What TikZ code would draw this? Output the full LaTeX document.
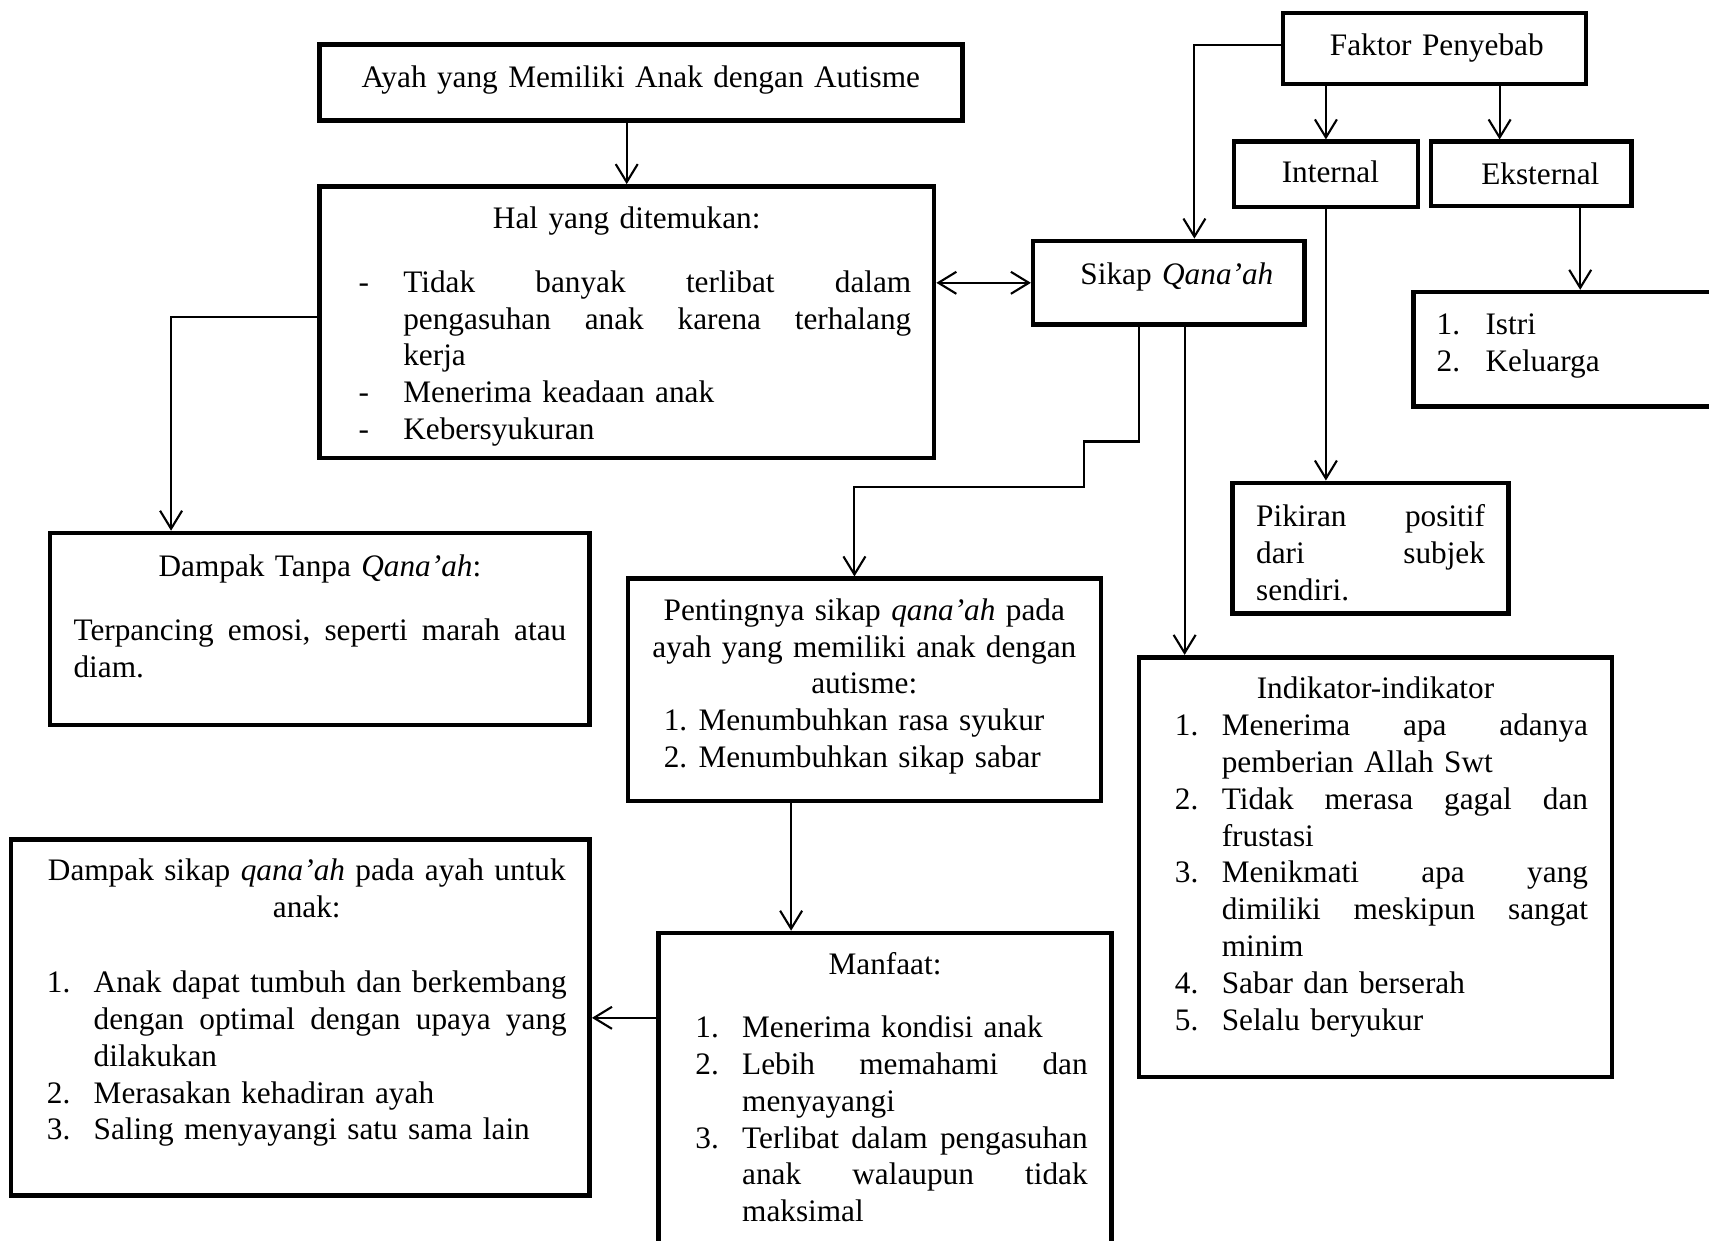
\documentclass[tikz,border=0pt]{standalone}
\usepackage{fontspec}
\setmainfont{Liberation Serif}
\usetikzlibrary{arrows.meta}

\newlength{\upx}\setlength{\upx}{0.01cm}
\newlength{\lblind}
\newlength{\numw}
\newcommand{\fsz}{\fontsize{8.9pt}{10.47pt}\selectfont}
\newcommand{\cln}[1]{\makebox[\linewidth]{#1}}
\newcommand{\jline}[1]{\makebox[\linewidth][s]{#1}}
\newcommand{\rline}[1]{\makebox[\linewidth][l]{#1}}
\newcommand{\ritem}[2]{\makebox[\linewidth][l]{\makebox[\numw][l]{\hspace*{\lblind}#1}#2}}
\newcommand{\jitem}[2]{\makebox[\numw][l]{\hspace*{\lblind}#1}\makebox[\dimexpr\linewidth-\numw\relax][s]{#2}}

\begin{document}
\begin{tikzpicture}[
  box/.style={draw, line width=1.3pt, inner sep=0pt, align=center, font=\fsz},
  arr/.style={line width=0.6pt, -{Straight Barb[length=1.8mm, width=2.2mm]}},
  dbl/.style={line width=0.6pt, {Straight Barb[length=1.8mm, width=2.2mm]}-{Straight Barb[length=1.8mm, width=2.2mm]}}]
\useasboundingbox (0,0) rectangle (17.09,-12.40);
\node[box, minimum width=6.431cm, minimum height=0.756cm, text width=6.2cm, text height=0.098cm, text depth=0pt] (ayah) at (6.409,-0.825) {Ayah yang Memiliki Anak dengan Autisme};
\node[box, minimum width=6.147cm, minimum height=2.714cm, text width=5.691cm, text height=0pt, text depth=1.882cm] (hal) at (6.267,-3.221) {\setlength{\lblind}{16.5\upx}\setlength{\numw}{61.2\upx}%
Hal yang ditemukan:\\[7.8pt]
\jitem{-}{Tidak\hfill banyak\hfill terlibat\hfill dalam}\\
\jitem{}{pengasuhan\hfill anak\hfill karena\hfill terhalang}\\
\ritem{}{kerja}\\
\ritem{-}{Menerima keadaan anak}\\
\ritem{-}{Kebersyukuran}};
\node[box, minimum width=5.395cm, minimum height=1.918cm, text width=4.927cm, text height=0pt, text depth=1.044cm] (dt) at (3.199,-6.289) {Dampak Tanpa \textit{Qana’ah}:\\[7.8pt]
\jline{Terpancing\hfill emosi,\hfill seperti\hfill marah\hfill atau}\\
\rline{diam.}};
\node[box, minimum width=2.714cm, minimum height=0.839cm, text width=2.5cm, text height=0.036cm, text depth=0pt] (sikap) at (11.689,-2.828) {\hspace*{16\upx}Sikap \textit{Qana’ah}};
\node[box, minimum width=3.030cm, minimum height=0.708cm, text width=2.8cm, text height=0.146cm, text depth=0pt] (faktor) at (14.343,-0.485) {\hspace*{5\upx}Faktor Penyebab};
\node[box, minimum width=1.842cm, minimum height=0.654cm, text width=1.7cm, text height=0.156cm, text depth=0pt] (internal) at (13.259,-1.744) {\hspace*{9\upx}Internal};
\node[box, minimum width=2.006cm, minimum height=0.643cm, text width=1.9cm, text height=0.21cm, text depth=0pt] (eksternal) at (15.313,-1.739) {\hspace*{18\upx}Eksternal};
\node[box, minimum width=2.757cm, minimum height=1.308cm, text width=2.288cm, text height=0pt, text depth=0.432cm] (pikiran) at (13.706,-5.482) {\jline{Pikiran\hfill positif}\\
\jline{dari\hfill subjek}\\
\rline{sendiri.}};
\node[box, minimum width=3.464cm, minimum height=1.144cm, text width=3.004cm, text height=0pt, text depth=0.29cm] (istri) at (15.868,-3.493) {\setlength{\numw}{49\upx}%
\ritem{1.}{Istri}\\
\ritem{2.}{Keluarga}};
\node[box, minimum width=4.730cm, minimum height=2.224cm, text width=4.27cm, text height=0pt, text depth=1.392cm] (penting) at (8.643,-6.899) {\setlength{\lblind}{13\upx}\setlength{\numw}{47.8\upx}%
\cln{Pentingnya sikap \textit{qana’ah} pada}\\
\cln{ayah yang memiliki anak dengan}\\
\cln{autisme:}\\
\ritem{1.}{Menumbuhkan rasa syukur}\\
\ritem{2.}{Menumbuhkan sikap sabar}};
\node[box, minimum width=4.534cm, minimum height=3.27cm, text width=4.054cm, text height=0pt, text depth=2.438cm] (manfaat) at (8.850,-10.965) {\setlength{\lblind}{13.1\upx}\setlength{\numw}{59.9\upx}%
Manfaat:\\[7.5pt]
\ritem{1.}{Menerima kondisi anak}\\
\jitem{2.}{Lebih\hfill memahami\hfill dan}\\
\ritem{}{menyayangi}\\
\jitem{3.}{Terlibat\hfill dalam\hfill pengasuhan}\\
\jitem{}{anak\hfill walaupun\hfill tidak}\\
\ritem{}{maksimal}};
\node[box, minimum width=5.787cm, minimum height=3.564cm, text width=5.329cm, text height=0pt, text depth=2.732cm] (ds) at (3.003,-10.174) {\setlength{\lblind}{13.1\upx}\setlength{\numw}{59.9\upx}%
\cln{\hspace*{13\upx}Dampak sikap \textit{qana’ah} pada ayah untuk}\\
\cln{\hspace*{13\upx}anak:}\\[10.9pt]
\jitem{1.}{Anak\hfill dapat\hfill tumbuh\hfill dan\hfill berkembang}\\
\jitem{}{dengan\hfill optimal\hfill dengan\hfill upaya\hfill yang}\\
\ritem{}{dilakukan}\\
\ritem{2.}{Merasakan kehadiran ayah}\\
\ritem{3.}{Saling menyayangi satu sama lain}};
\node[box, minimum width=4.730cm, minimum height=4.196cm, text width=4.25cm, text height=0pt, text depth=3.364cm] (indik) at (13.755,-8.670) {\setlength{\lblind}{11.9\upx}\setlength{\numw}{58.8\upx}%
Indikator-indikator\\
\jitem{1.}{Menerima\hfill apa\hfill adanya}\\
\ritem{}{pemberian Allah Swt}\\
\jitem{2.}{Tidak\hfill merasa\hfill gagal\hfill dan}\\
\ritem{}{frustasi}\\
\jitem{3.}{Menikmati\hfill apa\hfill yang}\\
\jitem{}{dimiliki\hfill meskipun\hfill sangat}\\
\ritem{}{minim}\\
\ritem{4.}{Sabar dan berserah}\\
\ritem{5.}{Selalu beryukur}};
\coordinate (halout) at ([yshift=0.049cm]hal.west);
\coordinate (fkout) at ([yshift=0.038cm]faktor.west);
\coordinate (dtin) at ([xshift=1.232cm]dt.north west);
\coordinate (skin) at ([xshift=1.635cm]sikap.north west);
\coordinate (ekin) at ([xshift=0.709cm]eksternal.north west);
\coordinate (ekout) at ([xshift=1.515cm]eksternal.south west);
\coordinate (sk1) at ([xshift=1.079cm]sikap.south west);
\coordinate (sk2) at ([xshift=1.537cm]sikap.south west);
\coordinate (ptin) at ([xshift=2.289cm]penting.north west);
\coordinate (ptout) at ([xshift=1.656cm]penting.south west);
\coordinate (mfout) at ([yshift=-0.871cm]manfaat.north west);
\draw[arr] (ayah.south -| hal.north) -- (hal.north);
\draw[arr] (halout) -| (dtin);
\draw[dbl] (hal.east |- sikap.west) -- (sikap.west);
\draw[arr] (fkout) -| (skin);
\draw[arr] (faktor.south -| internal.north) -- (internal.north);
\draw[arr] (ekin |- faktor.south) -- (ekin);
\draw[arr] (internal.south) -- (internal.south |- pikiran.north);
\draw[arr] (ekout) -- (ekout |- istri.north);
\draw[arr] (sk1) -- ++(0,-1.144) -- ++(-0.545,0) -- ++(0,-0.458) -| (ptin);
\draw[arr] (sk2) -- (sk2 |- indik.north);
\draw[arr] (ptout) -- (ptout |- manfaat.north);
\draw[arr] (mfout) -- (mfout -| ds.east);
\end{tikzpicture}
\end{document}
